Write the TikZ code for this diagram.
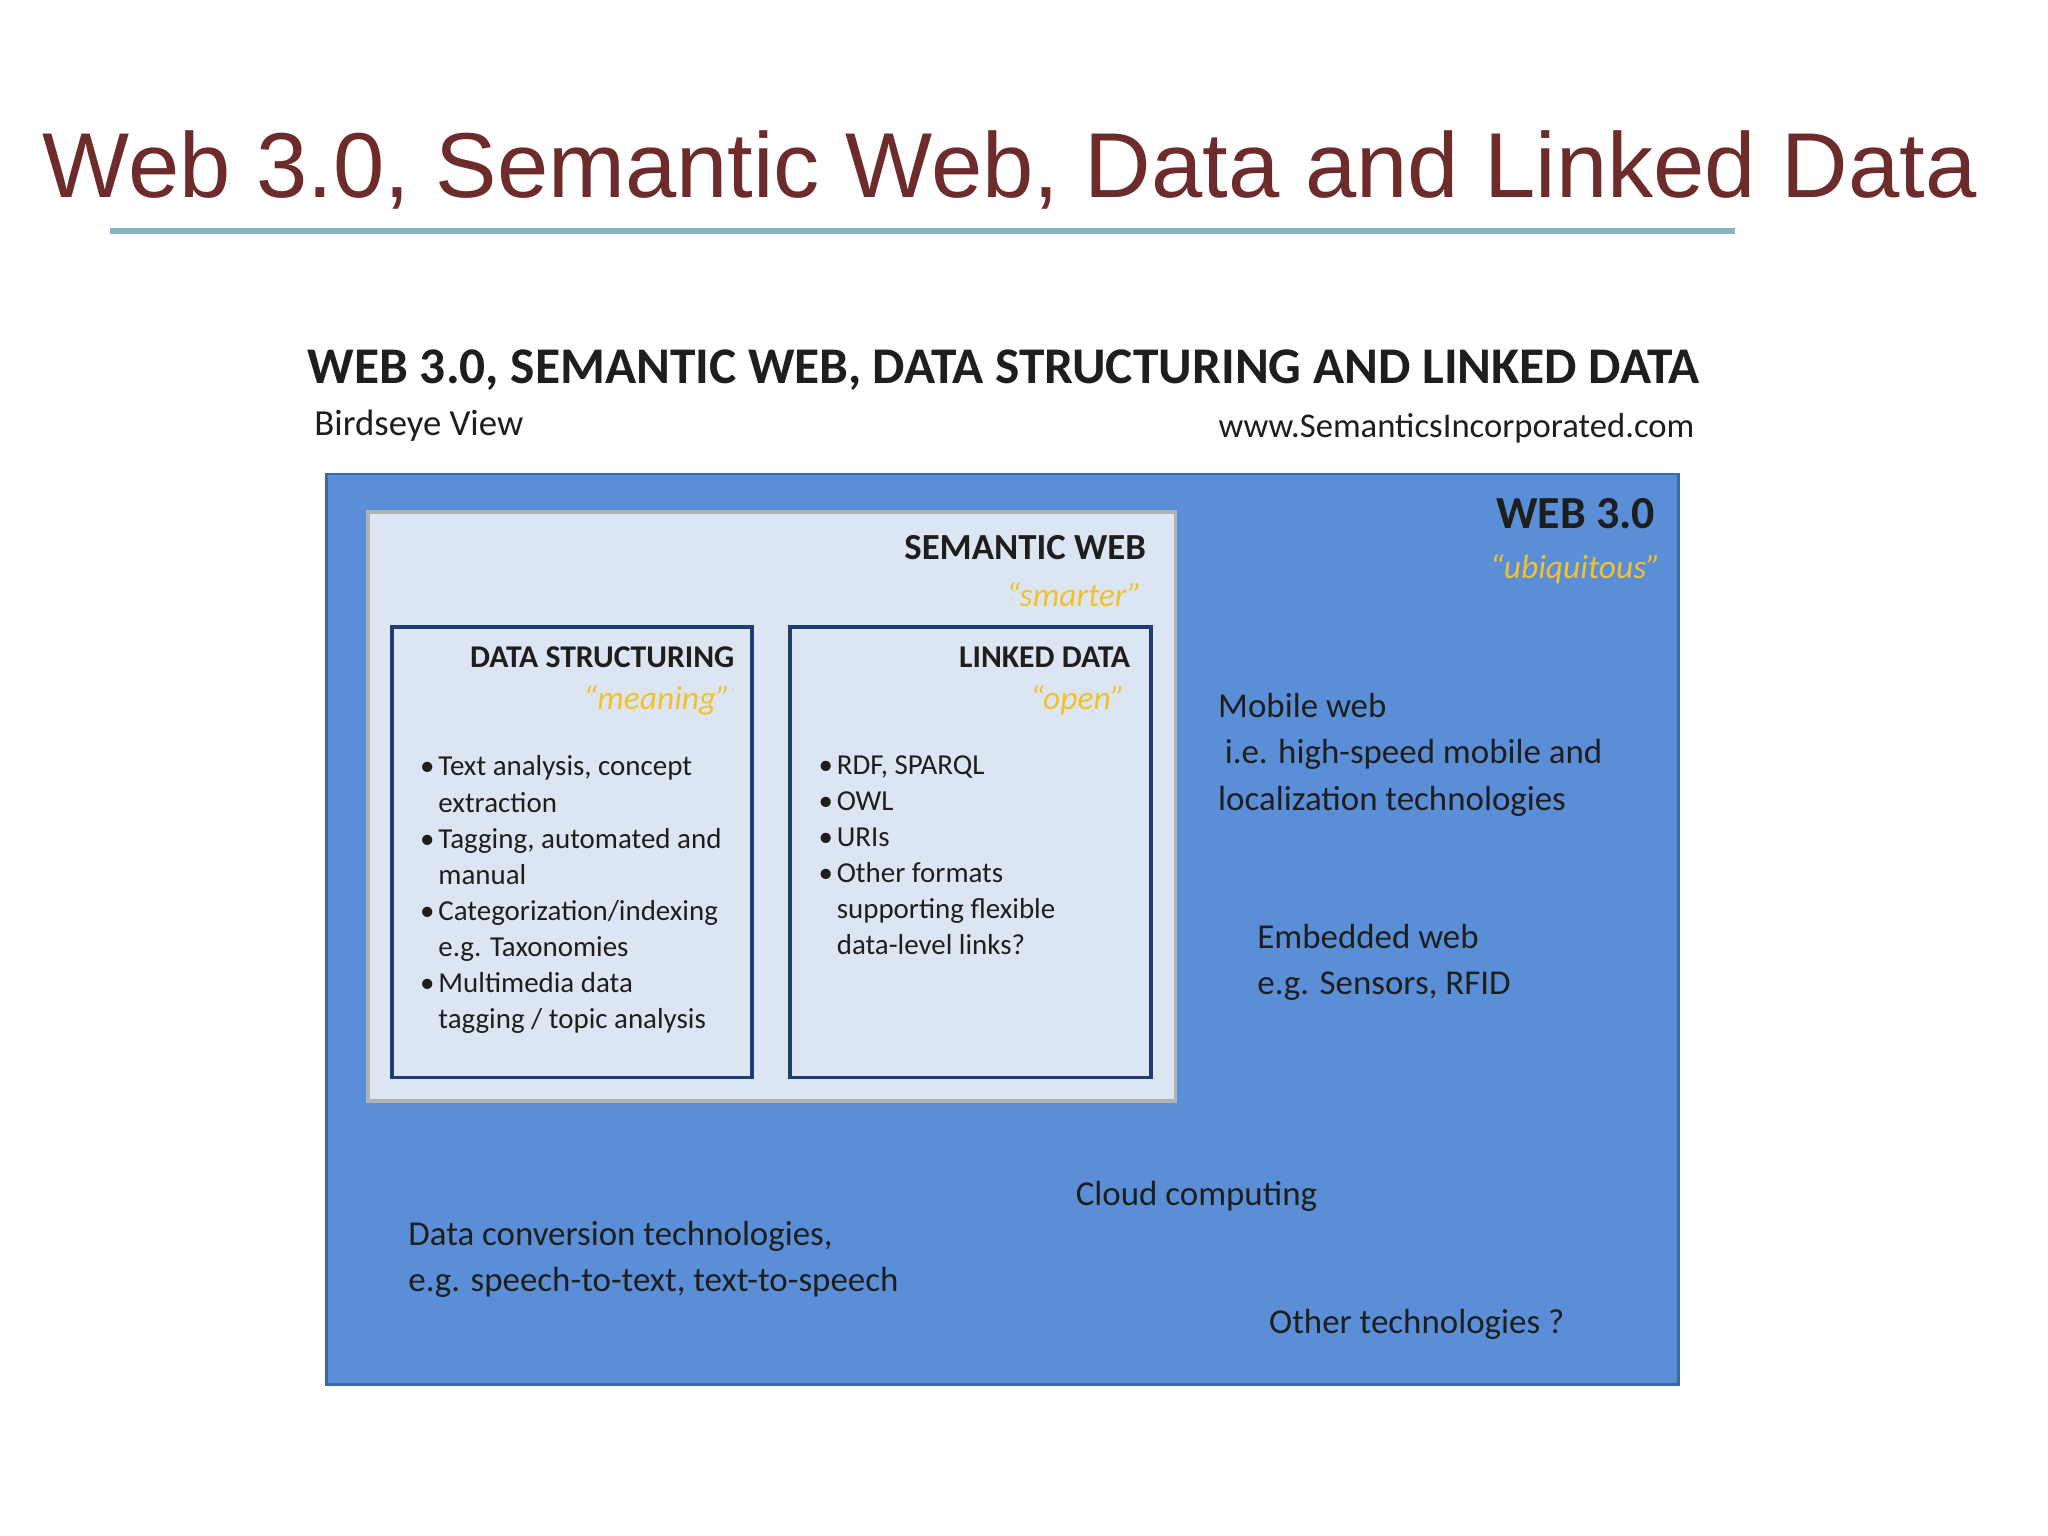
\documentclass[tikz,border=0pt]{standalone}
\usepackage{fontspec}
\setmainfont{Carlito}
\newfontfamily\arialf{Liberation Sans}
\definecolor{titlered}{HTML}{6E2B2B}
\definecolor{rulecol}{HTML}{8AB0C4}
\definecolor{webblue}{HTML}{5A8ED6}
\definecolor{webedge}{HTML}{3D68A8}
\definecolor{pale}{HTML}{DCE6F2}
\definecolor{boxedge}{HTML}{1F3D73}
\definecolor{gold}{HTML}{F2C12E}
\definecolor{txt}{HTML}{1E1E1E}
\tikzset{
  pxt/.style={inner sep=0pt, text=txt},
  body/.style={pxt, align=left, font=\fontsize{6.3}{7.85}\selectfont},
  side/.style={pxt, align=left, font=\fontsize{7.6}{10.1}\selectfont},
  hd/.style={pxt, font=\bfseries\fontsize{6.9}{8}\selectfont},
  quote/.style={pxt, text=gold, font=\itshape\fontsize{7.3}{8}\selectfont},
}
\newcommand{\bl}{\makebox[0.14cm][l]{\textbullet}}
\newcommand{\ind}{\hspace*{0.14cm}}
\begin{document}
\begin{tikzpicture}[x=0.01cm,y=-0.01cm]
\useasboundingbox[fill=white] (0,0) rectangle (1568,1176);
\node[pxt, text=titlered, anchor=west] (title) at (32,130) {\resizebox{14.8cm}{!}{\arialf Web 3.0, Semantic Web, Data and Linked Data}};
\draw[rulecol, line width=1.2pt] (84,177) -- (1328,177);
\node[pxt, anchor=west] (head) at (235,283) {\resizebox{10.65cm}{!}{\bfseries WEB 3.0, SEMANTIC WEB, DATA STRUCTURING AND LINKED DATA}};
\node[pxt, anchor=west, font=\fontsize{8}{9}\selectfont] (bird) at (240,326) {Birdseye View};
\node[pxt, anchor=east] (www) at (1298,328) {\resizebox{3.64cm}{!}{www.SemanticsIncorporated.com}};
% boxes
\draw[fill=webblue, draw=webedge, line width=0.6pt] (250,363) rectangle (1285,1060);
\draw[fill=pale, draw=gray!60, line width=0.8pt] (282,392) rectangle (900,843);
\draw[fill=pale, draw=boxedge, line width=0.8pt] (300,480) rectangle (576,825);
\draw[fill=pale, draw=boxedge, line width=0.8pt] (605,480) rectangle (881,825);
% web 3.0
\node[pxt, anchor=east, font=\bfseries\fontsize{10}{11}\selectfont] (web) at (1268,393) {WEB 3.0};
\node[quote, anchor=east] (ubi) at (1272,436) {\textquotedblleft ubiquitous\textquotedblright};
\node[pxt, anchor=east, font=\bfseries\fontsize{8}{9}\selectfont] (sw) at (878,419) {SEMANTIC WEB};
\node[quote, anchor=east] (smart) at (875,455) {\textquotedblleft smarter\textquotedblright};
\node[hd, anchor=east] (ds) at (563,503) {DATA STRUCTURING};
\node[quote, anchor=east] (mean) at (560,536) {\textquotedblleft meaning\textquotedblright};
\node[hd, anchor=east] (ld) at (866,503) {LINKED DATA};
\node[quote, anchor=east] (open) at (862,536) {\textquotedblleft open\textquotedblright};
\node[body, anchor=north west] (dslist) at (321,578) {\bl Text analysis, concept\\ \ind extraction\\ \bl Tagging, automated and\\ \ind manual\\ \bl Categorization/indexing\\ \ind e.g. Taxonomies\\ \bl Multimedia data\\ \ind tagging / topic analysis};
\node[body, anchor=north west] (ldlist) at (626,578) {\bl RDF, SPARQL\\ \bl OWL\\ \bl URIs\\ \bl Other formats\\ \ind supporting flexible\\ \ind data-level links?};
% side texts
\node[side, anchor=north west] (mob) at (932,530) {Mobile web\\ \hspace*{0.05cm}i.e. high-speed mobile and\\ localization technologies};
\node[side, anchor=north west] (emb) at (962,707) {Embedded web\\ e.g. Sensors, RFID};
\node[side, anchor=north west] (cloud) at (823,904) {Cloud computing};
\node[side, anchor=north west] (conv) at (312,934) {Data conversion technologies,\\ e.g. speech-to-text, text-to-speech};
\node[side, anchor=north west] (oth) at (971,1002) {Other technologies ?};
\end{tikzpicture}
\end{document}
